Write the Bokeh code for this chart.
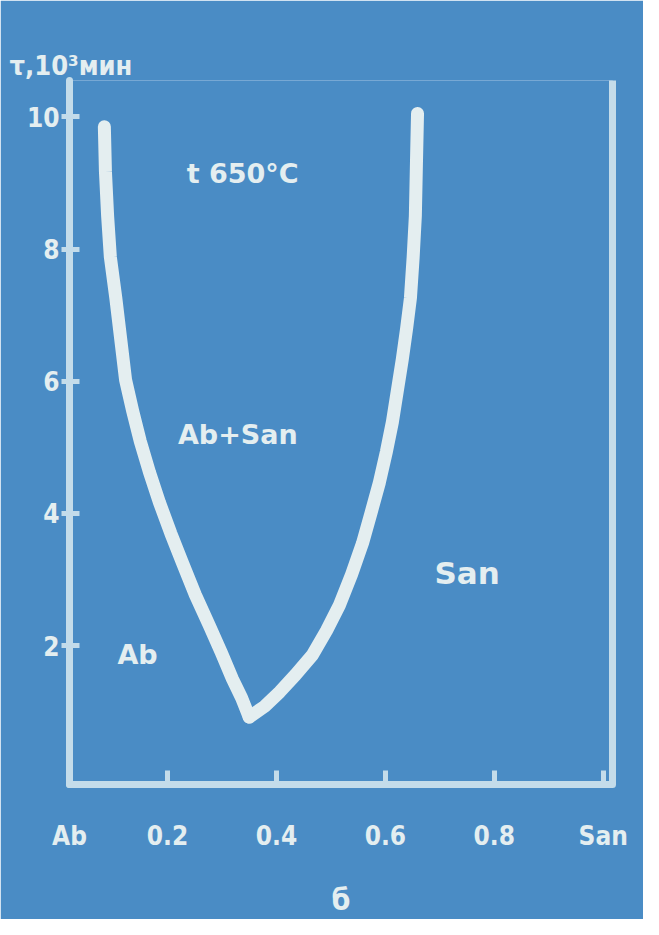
from bokeh.plotting import figure
from bokeh.models import LinearAxis, FixedTicker, ColumnDataSource, Range1d
from bokeh.embed import file_html
from bokeh.resources import INLINE
from bokeh.core.properties import value

# ---- data ----
left_x = [0.084, 0.086, 0.090, 0.095, 0.105, 0.114, 0.123, 0.136, 0.150, 0.167, 0.185,
          0.206, 0.228, 0.251, 0.277, 0.299, 0.319, 0.336, 0.350]
left_y = [9.85, 9.17, 8.50, 7.88, 7.26, 6.64, 6.02, 5.55, 5.09, 4.62, 4.17,
          3.70, 3.24, 2.77, 2.30, 1.89, 1.50, 1.21, 0.92]
right_x = [0.350, 0.378, 0.406, 0.435, 0.466, 0.492, 0.516, 0.538, 0.558, 0.574, 0.589,
           0.602, 0.613, 0.622, 0.631, 0.639, 0.646, 0.651, 0.655, 0.657, 0.659]
right_y = [0.92, 1.08, 1.30, 1.56, 1.86, 2.23, 2.62, 3.08, 3.55, 4.02, 4.47,
           4.94, 5.39, 5.86, 6.33, 6.80, 7.26, 7.88, 8.50, 9.29, 10.05]

x_ticks = [0.02, 0.2, 0.4, 0.6, 0.8, 1.0]
x_tick_labels = ["Ab", "0.2", "0.4", "0.6", "0.8", "San"]
y_ticks = [2, 4, 6, 8, 10]

annot_text = ["t 650°C", "Ab+San", "San", "Ab"]
annot_x = [0.338, 0.329, 0.75, 0.145]
annot_y = [9.14, 5.2, 3.1, 1.86]
annot_size = ["27px", "27px", "31px", "27px"]

y_title = "τ,10³мин"
x_title = "б"

BG = "#4a8cc5"
FG = "#e4eef0"
AX = "#c4dcea"
FONT = "DejaVu Sans Condensed, DejaVu Sans"
FONT2 = "DejaVu Sans"

p = figure(width=643, height=919, output_backend="svg", toolbar_location=None,
           x_range=Range1d(0.02, 1.017), y_range=Range1d(-0.1, 10.55),
           min_border_left=69, min_border_right=31, min_border_top=80,
           min_border_bottom=132, title=y_title)
p.background_fill_color = BG
p.border_fill_color = BG
p.outline_line_color = None
p.grid.visible = False

p.title.align = "left"
p.title.offset = -60
p.title.text_color = FG
p.title.text_font = FONT
p.title.text_font_size = "27px"
p.title.text_font_style = "bold"
p.title.standoff = 0

# axes
xa = p.xaxis[0]
xa.ticker = FixedTicker(ticks=x_ticks)
xa.major_label_overrides = {t: l for t, l in zip(x_ticks, x_tick_labels)}
xa.axis_label = x_title
ya = p.yaxis[0]
ya.ticker = FixedTicker(ticks=y_ticks)
for ax in (xa, ya):
    ax.axis_line_color = AX
    ax.axis_line_width = 7
    ax.axis_line_cap = "round"
    ax.major_tick_line_color = AX
    ax.major_tick_line_width = 5
    ax.minor_tick_line_color = None
    ax.major_label_text_color = FG
    ax.major_label_text_font = FONT
    ax.major_label_text_font_style = "bold"
    ax.major_label_text_font_size = "26px"
    ax.axis_label_text_color = FG
    ax.axis_label_text_font = FONT
    ax.axis_label_text_font_size = "30px"
    ax.axis_label_text_font_style = "bold"
xa.major_tick_in = 14
xa.major_tick_out = 0
xa.major_label_standoff = 36
xa.axis_label_standoff = 28
ya.major_tick_in = 10
ya.major_tick_out = 8
ya.major_label_standoff = 2

ra = LinearAxis(ticker=FixedTicker(ticks=[]), axis_line_color=AX, axis_line_width=7,
                major_label_text_font_size="0px", minor_tick_line_color=None,
                major_tick_line_color=None)
p.add_layout(ra, "right")

# curve
p.line(left_x, left_y, line_color=FG, line_width=13, line_cap="round", line_join="round")
p.line(right_x, right_y, line_color=FG, line_width=13, line_cap="round", line_join="round")

# annotations
src = ColumnDataSource(dict(x=annot_x, y=annot_y, t=annot_text, s=annot_size))
p.text(x="x", y="y", text="t", source=src, text_color=FG, text_font=value(FONT2),
       text_font_size="s", text_font_style="bold", text_align="center",
       text_baseline="middle")

html = file_html(p, INLINE)
html = html.replace("<body>", '<body style="background-color:%s">' % BG, 1)
open("out.html", "w").write(html)
